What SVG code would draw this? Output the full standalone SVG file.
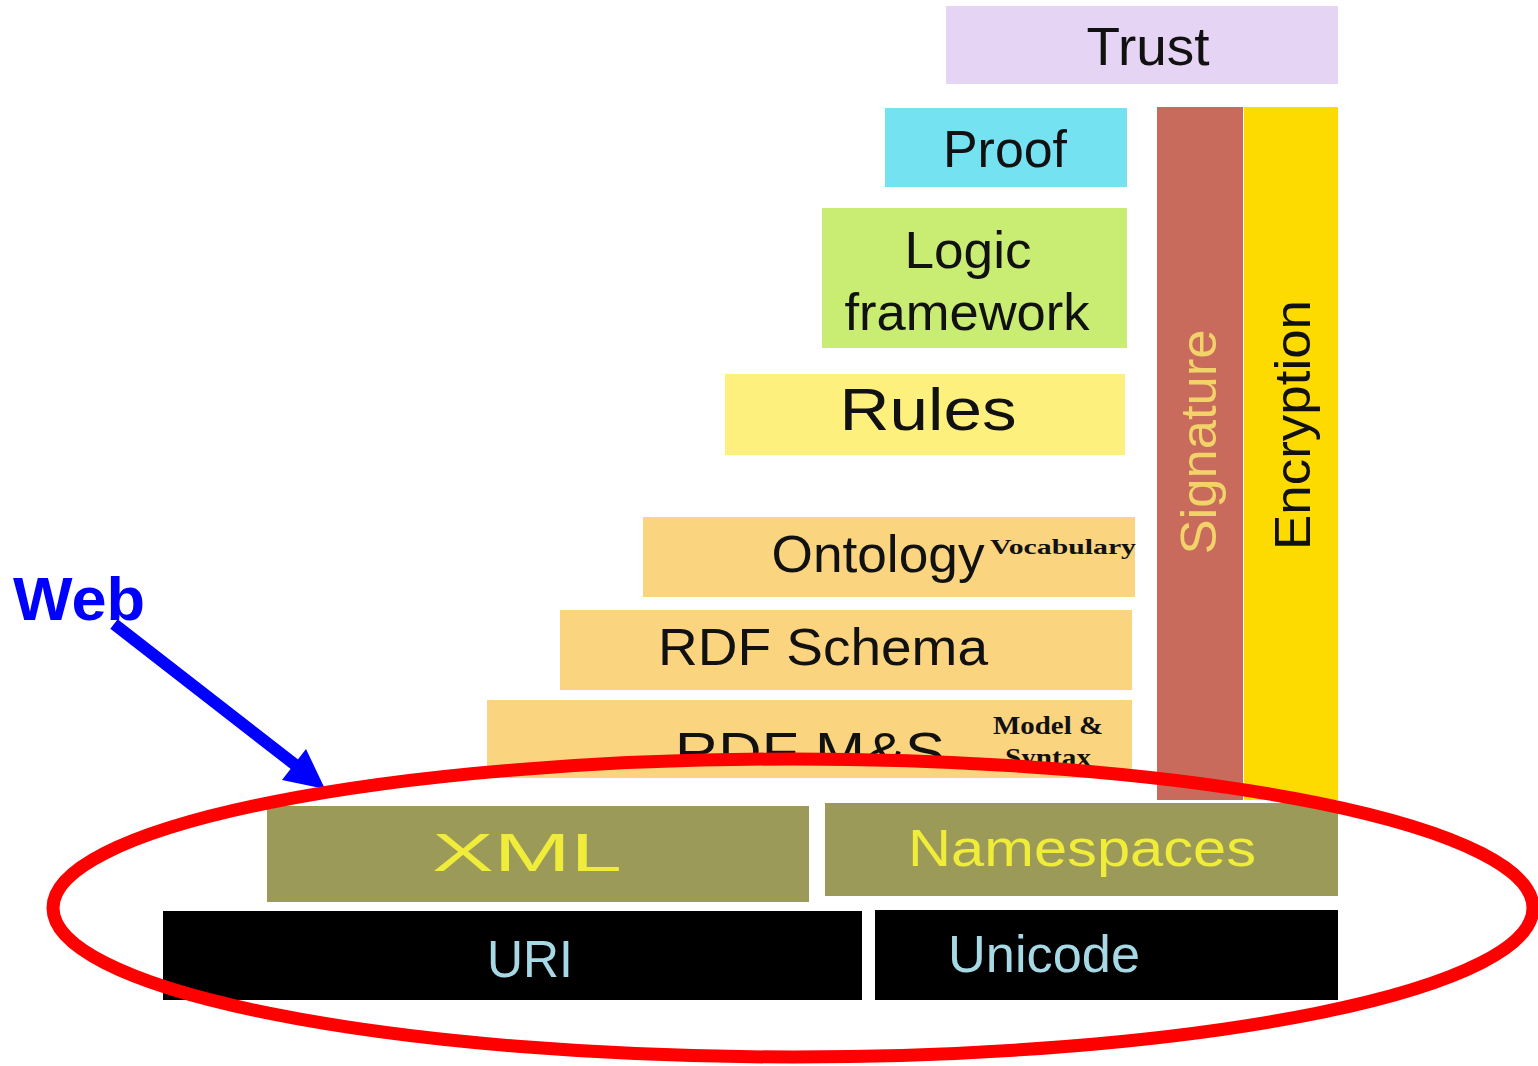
<svg xmlns="http://www.w3.org/2000/svg" width="1538" height="1066" viewBox="0 0 1538 1066">
<defs>
<style>
.lbl{font-family:"Liberation Sans",Arial,sans-serif;text-anchor:middle;fill:#111}
.small{font-family:"Liberation Serif","Times New Roman",serif;font-weight:bold;fill:#111;text-anchor:middle}
.olive{fill:#9b9a58}
.black{fill:#000}
.orange{fill:#fbd47f}
</style>
<clipPath id="rdfclip"><rect x="480" y="690" width="660" height="68"/></clipPath>
</defs>
<rect width="1538" height="1066" fill="#fff"/>
<g id="trust"><rect x="946" y="6" width="392" height="78" fill="#e5d4f4"/><text class="lbl" x="1148" y="65" font-size="53" textLength="123" lengthAdjust="spacingAndGlyphs">Trust</text></g>
<g id="proof"><rect x="885" y="108" width="242" height="79" fill="#75e2f2"/><text class="lbl" x="1005" y="167" font-size="52" textLength="124" lengthAdjust="spacingAndGlyphs">Proof</text></g>
<g id="logic"><rect x="822" y="208" width="305" height="140" fill="#c9ed72"/><text class="lbl" x="968" y="268" font-size="52" textLength="127" lengthAdjust="spacingAndGlyphs">Logic</text><text class="lbl" x="967" y="330" font-size="52" textLength="245" lengthAdjust="spacingAndGlyphs">framework</text></g>
<g id="rules"><rect x="725" y="374" width="400" height="81" fill="#fdf07c"/><text class="lbl" x="928" y="430" font-size="60" textLength="177" lengthAdjust="spacingAndGlyphs">Rules</text></g>
<g id="signature"><rect x="1157" y="107" width="86" height="693" fill="#c86b5c"/><text class="lbl" transform="translate(1216,442) rotate(-90)" font-size="50" fill="#f2d36a" style="fill:#f2d36a" textLength="225" lengthAdjust="spacingAndGlyphs">Signature</text></g>
<g id="encryption"><rect x="1244" y="107" width="94" height="693" fill="#fddb00"/><text class="lbl" transform="translate(1310,425) rotate(-90)" font-size="50" textLength="250" lengthAdjust="spacingAndGlyphs">Encryption</text></g>
<g id="ontology"><rect class="orange" x="643" y="517" width="492" height="80"/><text class="lbl" x="878" y="572" font-size="52" textLength="213" lengthAdjust="spacingAndGlyphs">Ontology</text><text class="small" x="1063" y="554" font-size="22" textLength="146" lengthAdjust="spacingAndGlyphs">Vocabulary</text></g>
<g id="rdfschema"><rect class="orange" x="560" y="610" width="572" height="80"/><text class="lbl" x="823" y="665" font-size="52" textLength="330" lengthAdjust="spacingAndGlyphs">RDF Schema</text></g>
<g id="rdfms"><rect class="orange" x="487" y="700" width="645" height="78"/><text class="lbl" x="810" y="770" font-size="54" textLength="270" lengthAdjust="spacingAndGlyphs" clip-path="url(#rdfclip)">RDF M&amp;S</text><text class="small" x="1048" y="734" font-size="25" textLength="110" lengthAdjust="spacingAndGlyphs">Model &amp;</text><text class="small" x="1048" y="766" font-size="25" textLength="86" lengthAdjust="spacingAndGlyphs">Syntax</text></g>
<g id="xml"><rect class="olive" x="267" y="806" width="542" height="96"/><text class="lbl" x="527" y="871" font-size="54" style="fill:#f0ec3a" textLength="190" lengthAdjust="spacingAndGlyphs">XML</text></g>
<g id="namespaces"><rect class="olive" x="825" y="803" width="513" height="93"/><text class="lbl" x="1082" y="866" font-size="52" style="fill:#f0ec3a" textLength="348" lengthAdjust="spacingAndGlyphs">Namespaces</text></g>
<g id="uri"><rect class="black" x="163" y="911" width="699" height="89"/><text class="lbl" x="530" y="977" font-size="52" style="fill:#a6d8e6" textLength="86" lengthAdjust="spacingAndGlyphs">URI</text></g>
<g id="unicode"><rect class="black" x="875" y="910" width="463" height="90"/><text class="lbl" x="1044" y="972" font-size="52" style="fill:#a6d8e6" textLength="192" lengthAdjust="spacingAndGlyphs">Unicode</text></g>
<g id="web"><text x="13" y="620" font-family="Liberation Sans, Arial, sans-serif" font-weight="bold" font-size="62" fill="#0000ff" textLength="132" lengthAdjust="spacingAndGlyphs">Web</text></g>
<g id="connectors">
<line x1="114" y1="624" x2="298" y2="767" stroke="#0000ff" stroke-width="12"/>
<polygon points="325,789 282,780 306,749" fill="#0000ff"/>
</g>
<g id="highlight"><ellipse cx="793" cy="908" rx="740" ry="149" fill="none" stroke="#ff0000" stroke-width="13"/></g>
</svg>
